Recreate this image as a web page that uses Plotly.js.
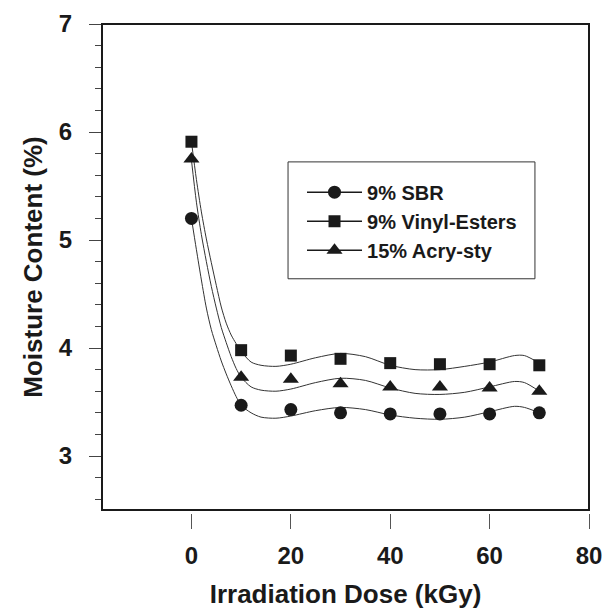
<!DOCTYPE html>
<html>
<head>
<meta charset="utf-8">
<script src="https://cdn.plot.ly/plotly-3.0.1.min.js"></script>
<style>html,body{margin:0;padding:0;background:#fff;}#chart{width:604px;height:610px;}</style>
</head>
<body>
<div id="chart"></div>
<script>
// Measured data points
var dose = [0, 10, 20, 30, 40, 50, 60, 70];
var sbr = [5.20, 3.47, 3.43, 3.40, 3.39, 3.39, 3.39, 3.40];
var vinyl = [5.91, 3.98, 3.93, 3.90, 3.86, 3.85, 3.85, 3.84];
var acry = [5.75, 3.73, 3.71, 3.67, 3.64, 3.64, 3.63, 3.60];

// Fitted curves
var fitX = [0, 1, 2, 3, 4, 5, 6, 7, 8, 9, 10, 12, 14, 17, 20, 25, 30, 35, 40, 45, 50, 55, 60, 65, 67, 70];
var fitSbr = [5.20, 4.91, 4.63, 4.37, 4.17, 4.02, 3.88, 3.76, 3.65, 3.55, 3.47, 3.40, 3.36, 3.35, 3.37, 3.42, 3.45, 3.43, 3.38, 3.35, 3.34, 3.36, 3.41, 3.46, 3.45, 3.40];
var fitVinyl = [5.91, 5.56, 5.26, 5.01, 4.79, 4.58, 4.38, 4.23, 4.12, 4.04, 3.97, 3.87, 3.84, 3.83, 3.85, 3.91, 3.95, 3.92, 3.84, 3.80, 3.80, 3.83, 3.87, 3.93, 3.93, 3.86];
var fitAcry = [5.74, 5.35, 5.05, 4.80, 4.57, 4.37, 4.19, 4.05, 3.92, 3.81, 3.73, 3.64, 3.61, 3.60, 3.62, 3.68, 3.72, 3.70, 3.63, 3.58, 3.57, 3.59, 3.64, 3.69, 3.68, 3.60];

var names = ['9% SBR', '9% Vinyl-Esters', '15% Acry-sty'];
var xTicks = [0, 20, 40, 60, 80];
var yTicks = [3, 4, 5, 6, 7];

var markerColor = '#1a1a1a';
var curveColor = '#333333';
var symbols = ['circle', 'square', 'triangle-up'];
var sizes = [13, 12, 14];
var ys = [sbr, vinyl, acry];
var fits = [fitSbr, fitVinyl, fitAcry];

var traces = [];
for (var i = 0; i < 3; i++) {
  traces.push({
    x: fitX, y: fits[i], mode: 'lines', type: 'scatter',
    line: {color: curveColor, width: 1, shape: 'spline', smoothing: 0.8},
    showlegend: false, hoverinfo: 'skip'
  });
  traces.push({
    x: dose, y: ys[i], mode: 'markers', type: 'scatter',
    marker: {symbol: symbols[i], size: sizes[i], color: markerColor},
    showlegend: false
  });
}
// legend entries
for (var j = 0; j < 3; j++) {
  traces.push({
    x: [null], y: [null], mode: 'lines+markers', type: 'scatter', name: names[j],
    legendgroup: 'g' + j,
    line: {color: markerColor, width: 1.5},
    marker: {symbol: symbols[j], size: sizes[j], color: markerColor}
  });
}

var font = 'Liberation Sans, Arial, sans-serif';
var layout = {
  width: 604, height: 610,
  margin: {l: 102, r: 15, t: 24, b: 97},
  paper_bgcolor: '#fff', plot_bgcolor: '#fff',
  showlegend: true,
  legend: {
    x: 0.4107, y: 0.696, xanchor: 'left', yanchor: 'top',
    bgcolor: 'rgba(0,0,0,0)', borderwidth: 0,
    font: {family: font, size: 20, color: '#1a1a1a', weight: 'bold'},
    traceorder: 'grouped', tracegroupgap: 0, itemwidth: 55
  },
  xaxis: {
    range: [-18, 80], anchor: 'free', position: 0,
    tickmode: 'array', tickvals: xTicks,
    ticks: 'outside', ticklen: 15, tickwidth: 1, tickcolor: '#555',
    ticklabelstandoff: 6,
    showline: false, showgrid: false, zeroline: false,
    tickfont: {family: font, size: 24, color: '#1a1a1a', weight: 'bold'},
    title: {text: 'Irradiation Dose (kGy)', font: {family: font, size: 26, color: '#1a1a1a', weight: 'bold'}, standoff: 17}
  },
  yaxis: {
    range: [2.5, 7], domain: [0.0061, 1],
    tickmode: 'array', tickvals: yTicks,
    ticks: 'outside', ticklen: 12, tickwidth: 1, tickcolor: '#444',
    minor: {dtick: 0.2, ticks: 'outside', ticklen: 6, tickwidth: 1, tickcolor: '#444', showgrid: false},
    ticklabelstandoff: 12,
    showline: false, showgrid: false, zeroline: false,
    tickfont: {family: font, size: 24, color: '#1a1a1a', weight: 'bold'},
    title: {text: 'Moisture Content (%)', font: {family: font, size: 26, color: '#1a1a1a', weight: 'bold'}, standoff: 8}
  },
  shapes: [
    {type: 'rect', xref: 'paper', yref: 'paper', x0: 0, x1: 1, y0: 0.0061, y1: 1,
     line: {color: '#1a1a1a', width: 2}, layer: 'above'},
    {type: 'rect', xref: 'paper', yref: 'paper', x0: 0.382, x1: 0.889, y0: 0.479, y1: 0.718,
     line: {color: '#333', width: 1}}
  ]
};

Plotly.newPlot('chart', traces, layout, {displayModeBar: false, staticPlot: true});
</script>
</body>
</html>
